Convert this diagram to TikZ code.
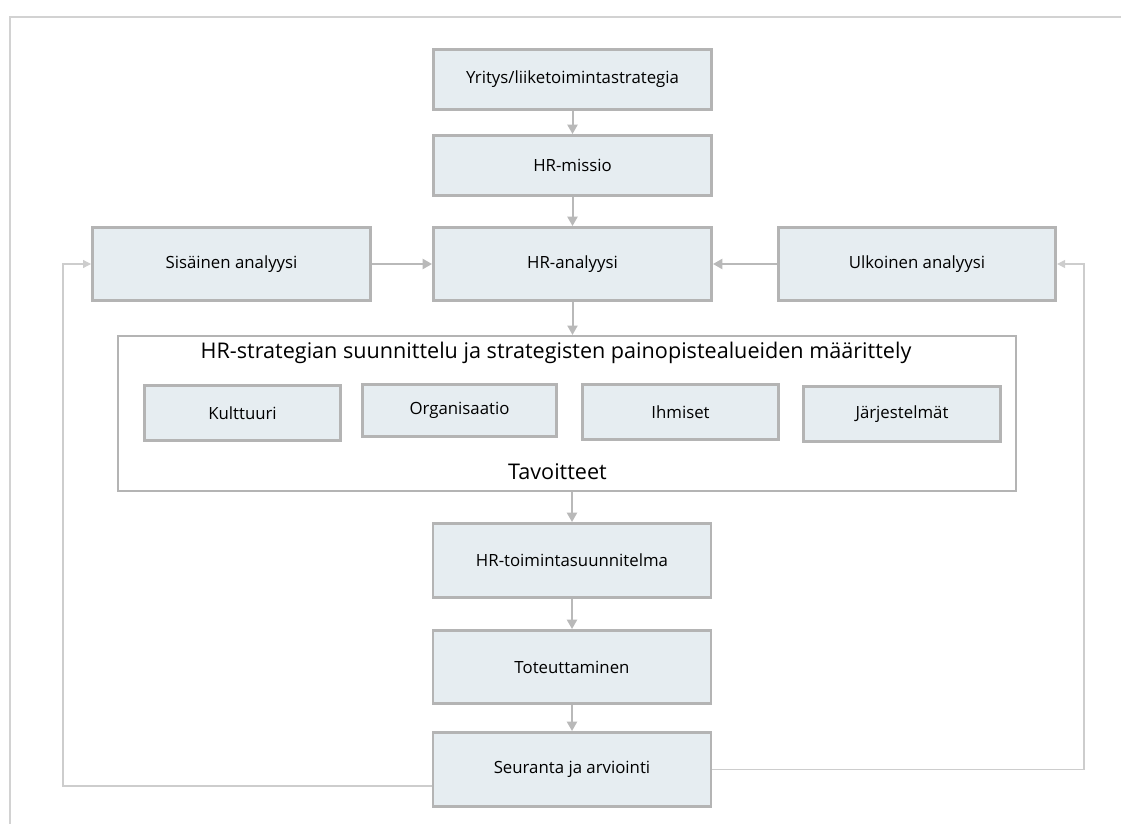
\documentclass[tikz,border=0pt]{standalone}
\usepackage{fontspec}
\setmainfont{Open Sans}
\usetikzlibrary{arrows.meta,positioning}
\definecolor{boxfill}{RGB}{230,237,241}
\definecolor{boxline}{RGB}{180,180,180}
\definecolor{linkgray}{RGB}{185,185,185}
\definecolor{fbgray}{RGB}{205,205,205}
\definecolor{framegray}{RGB}{210,210,210}
\newcommand{\hrnode}[5]{%
    \node[box, minimum width=#2, minimum height=#3] (#1) at #4 {#5};%
}

\begin{document}
\begin{tikzpicture}[
        x=0.75pt,
        y=-0.75pt,
        box/.style={draw=boxline, line width=2.2pt, fill=boxfill, inner sep=0pt, font=\fontsize{12.6}{15}\selectfont},
        bigbox/.style={draw=boxline, line width=1.6pt, fill=white, inner sep=0pt},
        link/.style={-{Triangle[length=7pt, width=7.5pt]}, line width=1.5pt, draw=linkgray},
        fb/.style={-{Triangle[length=6pt, width=6pt]}, line width=0.8pt, draw=fbgray},
        heading/.style={font=\fontsize{16.2}{19}\selectfont, inner sep=0pt}
    ]
        \useasboundingbox (0,0) rectangle (1121,824);

        % === KEHYS ===
        \coordinate (frameBL) at (10,824);
        \coordinate (frameTL) at (10,17);
        \coordinate (frameTR) at (1121,17);
        \draw[framegray, line width=1.5pt] (frameBL) -- (frameTL) -- (frameTR);

        % === PÄÄLAATIKOT ===
        % \hrnode{nimi}{leveys}{korkeus}{(x,y)}{teksti}
        \hrnode{strategia}{208.5pt}{45pt}{(572.5,79.5)}{Yritys/liiketoimintastrategia}
        \hrnode{missio}{208.5pt}{45pt}{(572.5,165.5)}{HR-missio}
        \hrnode{analyysi}{208.5pt}{54.75pt}{(572.5,264)}{HR-analyysi}
        \hrnode{sisainen}{208.5pt}{54.75pt}{(231.5,264)}{Sisäinen analyysi}
        \hrnode{ulkoinen}{208pt}{54.75pt}{(917,264)}{Ulkoinen analyysi}

        % === HR-STRATEGIA ===
        \node[bigbox, minimum width=673.5pt, minimum height=116.25pt] (suunnittelu) at (567,413.5) {};
        \node[heading] (otsikko) at (556,353) {HR-strategian suunnittelu ja strategisten painopistealueiden määrittely};
        \hrnode{kulttuuri}{147pt}{41.25pt}{(242.5,413)}{Kulttuuri}
        \hrnode{organisaatio}{146pt}{39pt}{(459.5,410.5)}{Organisaatio}
        \hrnode{ihmiset}{147pt}{41.25pt}{(680.5,412)}{Ihmiset}
        \hrnode{jarjestelmat}{148pt}{41.25pt}{(902,414)}{Järjestelmät}
        \node[heading] (tavoitteet) at (557.5,472) {Tavoitteet};

        % === TOTEUTUS ===
        \hrnode{toiminta}{208.5pt}{55.5pt}{(572,560.5)}{HR-toimintasuunnitelma}
        \hrnode{toteutus}{208.5pt}{54.75pt}{(572,667)}{Toteuttaminen}
        \hrnode{seuranta}{208.5pt}{55.5pt}{(572,769.5)}{Seuranta ja arviointi}

        % === NUOLET ===
        \draw[link] (strategia) -- (missio);
        \draw[link] (missio) -- (analyysi);
        \draw[link] (sisainen) -- (analyysi);
        \draw[link] (ulkoinen) -- (analyysi);
        \draw[link] (analyysi.south) -- (analyysi.south |- suunnittelu.north);
        \draw[link] (suunnittelu.south -| toiminta.north) -- (toiminta);
        \draw[link] (toiminta) -- (toteutus);
        \draw[link] (toteutus) -- (seuranta);

        % === PALAUTE ===
        \coordinate (palauteL) at (63,786);
        \coordinate (palauteR) at (1084,769.5);
        \draw[fb] (seuranta.west |- palauteL) -- (palauteL) |- (sisainen.west);
        \draw[fb] (seuranta.east) -- (palauteR) |- (ulkoinen.east);
    \end{tikzpicture}
\end{document}
